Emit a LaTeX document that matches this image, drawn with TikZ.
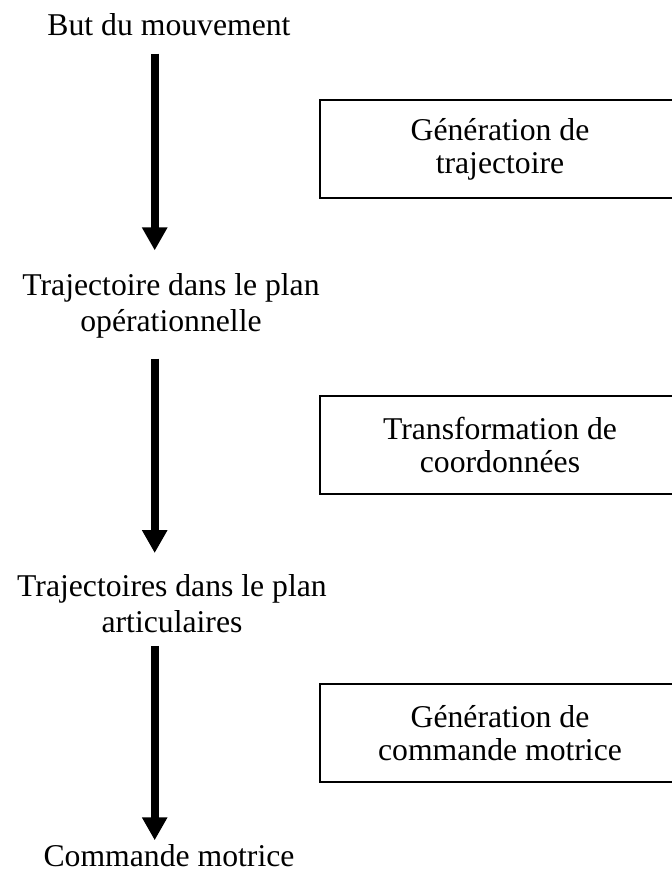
\documentclass[tikz,border=0pt]{standalone}
\usepackage{fontspec}
\setmainfont{Liberation Serif}
\usetikzlibrary{arrows.meta}
\begin{document}
\begin{tikzpicture}[x=1pt,y=-1pt,
        font=\fontsize{31.7}{36}\selectfont,
        etat/.style={inner sep=0pt,align=center},
        bloc/.style={draw,line width=1.5pt,minimum width=360pt,minimum height=98pt,
            inner sep=0pt,align=center,font=\fontsize{31.7}{33}\selectfont},
        fleche/.style={line width=8pt,-{Triangle[width=24pt,length=23pt]}}]
    \clip (0,0) rectangle (672,871);

    \coordinate (axe) at (154.7,0);

    \node[etat,anchor=base] (but) at (169,35) {But du mouvement};
    \node[etat] (op) at (171,306) {Trajectoire dans le plan\\opérationnelle};
    \node[etat] (art) at (172,603.4) {Trajectoires dans le plan\\articulaires};
    \node[etat,anchor=base] (cmd) at (169,866.5) {Commande motrice};

    \node[bloc] (gen) at (500,149) {Génération de\\trajectoire};
    \node[bloc] (trans) at (500,445) {Transformation de\\coordonnées};
    \node[bloc] (motr) at (500,733) {Génération de\\commande motrice};

    \draw[fleche,shorten <=18pt,shorten >=23pt] (but.south -| axe) -- (op.north -| axe);
    \draw[fleche,shorten <=20pt,shorten >=21pt] (op.south -| axe) -- (art.north -| axe);
    \draw[fleche,shorten <=13pt,shorten >=4pt] (art.south -| axe) -- (cmd.north -| axe);
\end{tikzpicture}
\end{document}
